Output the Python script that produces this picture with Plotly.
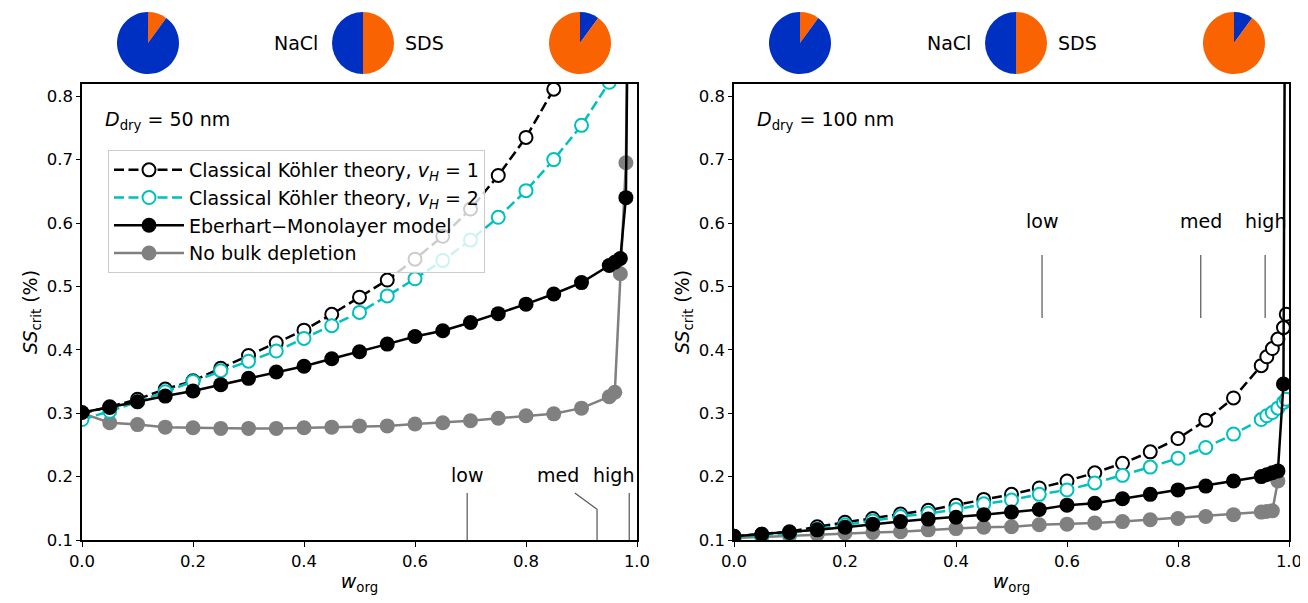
import plotly.graph_objects as go

# ---------------- data ----------------
w_base = [0.0, 0.05, 0.1, 0.15, 0.2, 0.25, 0.3, 0.35, 0.4, 0.45, 0.5,
          0.55, 0.6, 0.65, 0.7, 0.75, 0.8, 0.85, 0.9]

# Left panel (D_dry = 50 nm)
L_kohler1_w = w_base
L_kohler1 = [0.300, 0.310, 0.322, 0.338, 0.351, 0.371, 0.391, 0.411, 0.431, 0.456, 0.483,
             0.510, 0.543, 0.579, 0.622, 0.675, 0.735, 0.811, 0.905]
L_kohler2_w = w_base + [0.95]
L_kohler2 = [0.290, 0.303, 0.318, 0.334, 0.350, 0.367, 0.382, 0.398, 0.418, 0.438, 0.459,
             0.485, 0.512, 0.541, 0.573, 0.609, 0.651, 0.700, 0.754, 0.822]
L_eber_w = w_base + [0.95, 0.96, 0.97, 0.98, 0.99]
L_eber = [0.301, 0.309, 0.318, 0.327, 0.335, 0.345, 0.355, 0.365, 0.374, 0.386, 0.397,
          0.409, 0.421, 0.430, 0.443, 0.457, 0.472, 0.488, 0.506, 0.533, 0.538, 0.544, 0.640, 1.5]
L_nobulk_w = w_base + [0.95, 0.96, 0.97, 0.98, 0.99]
L_nobulk = [0.300, 0.285, 0.282, 0.278, 0.277, 0.276, 0.276, 0.276, 0.277, 0.278, 0.280,
            0.280, 0.283, 0.285, 0.288, 0.292, 0.296, 0.299, 0.308, 0.326, 0.333, 0.520, 0.695, 1.5]

# Right panel (D_dry = 100 nm)
R_kohler1_w = w_base + [0.95, 0.96, 0.97, 0.98, 0.99, 0.995]
R_kohler1 = [0.106, 0.109, 0.113, 0.121, 0.128, 0.134, 0.141, 0.147, 0.155, 0.164, 0.172,
             0.182, 0.193, 0.206, 0.221, 0.239, 0.260, 0.289, 0.324, 0.375, 0.389, 0.402,
             0.417, 0.435, 0.456]
R_kohler2_w = w_base + [0.95, 0.96, 0.97, 0.98, 0.99, 0.995]
R_kohler2 = [0.104, 0.107, 0.111, 0.117, 0.124, 0.130, 0.137, 0.142, 0.148, 0.157, 0.163,
             0.172, 0.179, 0.190, 0.202, 0.215, 0.229, 0.246, 0.267, 0.290, 0.296, 0.301,
             0.308, 0.317, 0.322]
R_eber_w = w_base + [0.95, 0.96, 0.97, 0.98, 0.99, 0.995]
R_eber = [0.106, 0.109, 0.112, 0.116, 0.120, 0.125, 0.129, 0.133, 0.136, 0.140, 0.144,
          0.148, 0.155, 0.158, 0.165, 0.172, 0.179, 0.185, 0.193, 0.200, 0.203, 0.206,
          0.209, 0.346, 1.5]
R_nobulk_w = w_base + [0.95, 0.96, 0.97, 0.98]
R_nobulk = [0.103, 0.105, 0.107, 0.109, 0.111, 0.112, 0.113, 0.116, 0.118, 0.120, 0.121,
            0.124, 0.125, 0.127, 0.129, 0.132, 0.134, 0.137, 0.140, 0.144, 0.145, 0.146, 0.193]

# composition labels
comp_labels = ["low", "med", "high"]
L_comp_w = [0.694, 0.928, 0.986]
L_comp_text_w = [0.694, 0.857, 0.957]
R_comp_w = [0.555, 0.841, 0.957]

# pies: SDS mass fraction
pie_sds = [0.1, 0.5, 0.9]
pie_names = ["NaCl", "SDS"]

legend_names = ["Classical Köhler theory, <i>v</i><sub><i>H</i></sub> = 1",
                "Classical Köhler theory, <i>v</i><sub><i>H</i></sub> = 2",
                "Eberhart\u2212Monolayer model",
                "No bulk depletion"]
panel_titles = ["<i>D</i><sub>dry</sub> = 50 nm", "<i>D</i><sub>dry</sub> = 100 nm"]
x_title = "<i>w</i><sub>org</sub>"
y_title = "<i>SS</i><sub>crit</sub> (%)"

# ---------------- figure ----------------
PAGE_OFF = 8          # default body margin of the html page
W, H = 1300, 595
FONT = "DejaVu Sans"
FS = 19
TFS = 16.5
BLUE = "#0030c2"
ORANGE = "#f96302"
CYAN = "#00bfbf"
GRAY = "#808080"
DASH = "10px,4.5px"


def fx(px):
    return (px - PAGE_OFF) / W


def fy(py):
    return 1 - (py - PAGE_OFF) / H


ax_x = [(82.0, 637.0), (734.0, 1289.0)]
ax_top, ax_bot = 84.0, 540.0
px_per_unit = 634.0
ymax = 0.1 + (ax_bot - ax_top) / px_per_unit

fig = go.Figure()

panels = [
    (L_kohler1_w, L_kohler1, L_kohler2_w, L_kohler2, L_eber_w, L_eber, L_nobulk_w, L_nobulk),
    (R_kohler1_w, R_kohler1, R_kohler2_w, R_kohler2, R_eber_w, R_eber, R_nobulk_w, R_nobulk),
]
for i, (k1w, k1, k2w, k2, ew, e, nw, nb) in enumerate(panels):
    xa = "x" if i == 0 else "x2"
    ya = "y" if i == 0 else "y2"
    show = i == 0
    fig.add_trace(go.Scatter(x=nw, y=nb, xaxis=xa, yaxis=ya, mode="lines+markers",
                             name=legend_names[3], legendrank=4, showlegend=show,
                             line=dict(color=GRAY, width=2.5),
                             marker=dict(color=GRAY, size=15)))
    fig.add_trace(go.Scatter(x=k1w, y=k1, xaxis=xa, yaxis=ya, mode="lines+markers",
                             name=legend_names[0], legendrank=1, showlegend=show,
                             line=dict(color="black", width=2.5, dash=DASH),
                             marker=dict(color="white", size=13,
                                         line=dict(color="black", width=2))))
    fig.add_trace(go.Scatter(x=k2w, y=k2, xaxis=xa, yaxis=ya, mode="lines+markers",
                             name=legend_names[1], legendrank=2, showlegend=show,
                             line=dict(color=CYAN, width=2.5, dash=DASH),
                             marker=dict(color="white", size=13,
                                         line=dict(color=CYAN, width=2))))
    fig.add_trace(go.Scatter(x=ew, y=e, xaxis=xa, yaxis=ya, mode="lines+markers",
                             name=legend_names[2], legendrank=3, showlegend=show,
                             line=dict(color="black", width=2.5),
                             marker=dict(color="black", size=15)))

# pies (centres given in page pixels)
pie_cx = [[148.0, 363.0, 580.0], [800.0, 1016.0, 1234.0]]
R_PIE = 31.0
pie_cy = 43.0
for i in range(2):
    for j, s in enumerate(pie_sds):
        cx = pie_cx[i][j]
        if j < 2:
            vals, cols, labs = [s, 1 - s], [ORANGE, BLUE], ["SDS", "NaCl"]
        else:
            vals, cols, labs = [1 - s, s], [BLUE, ORANGE], ["NaCl", "SDS"]
        fig.add_trace(go.Pie(values=vals, labels=labs, sort=False, direction="clockwise",
                             rotation=0, textinfo="none", hoverinfo="label+percent",
                             marker=dict(colors=cols), showlegend=False,
                             domain=dict(x=[fx(cx - R_PIE), fx(cx + R_PIE)],
                                         y=[fy(pie_cy + R_PIE), fy(pie_cy - R_PIE)])))
    cmid = pie_cx[i][1]
    fig.add_annotation(x=fx(cmid - 43), y=fy(pie_cy), xref="paper", yref="paper",
                       text=pie_names[0], showarrow=False, xanchor="right", yanchor="middle",
                       font=dict(size=FS, color="black"))
    fig.add_annotation(x=fx(cmid + 40), y=fy(pie_cy), xref="paper", yref="paper",
                       text=pie_names[1], showarrow=False, xanchor="left", yanchor="middle",
                       font=dict(size=FS, color="black"))

# axes
yticks = [0.1, 0.2, 0.3, 0.4, 0.5, 0.6, 0.7, 0.8]
xticks = [0.0, 0.2, 0.4, 0.6, 0.8, 1.0]
common_x = dict(range=[0, 1], tickmode="array", tickvals=xticks, automargin=False,
                ticktext=[f"{v:.1f}" for v in xticks], showgrid=False, zeroline=False,
                showline=True, linecolor="black", linewidth=1.5, mirror=True,
                ticks="outside", ticklen=5, tickwidth=1.3, tickcolor="black",
                tickfont=dict(size=TFS, color="black"),
                title=dict(text=x_title, font=dict(size=FS, color="black"), standoff=5))
common_y = dict(range=[0.1, ymax], tickmode="array", tickvals=yticks,
                automargin=False,
                ticktext=[f"{v:.1f}" for v in yticks], showgrid=False, zeroline=False,
                showline=True, linecolor="black", linewidth=1.5, mirror=True,
                ticks="outside", ticklen=4, tickwidth=1.3, tickcolor="black",
                tickfont=dict(size=TFS, color="black"))

ydom = [fy(ax_bot), fy(ax_top)]
fig.update_layout(
    width=W, height=H, margin=dict(l=0, r=0, t=0, b=0, autoexpand=False),
    paper_bgcolor="white", plot_bgcolor="white",
    font=dict(family=FONT, size=FS, color="black"),
    xaxis=dict(domain=[fx(ax_x[0][0]), fx(ax_x[0][1])], anchor="y", **common_x),
    yaxis=dict(domain=ydom, anchor="x", **common_y),
    xaxis2=dict(domain=[fx(ax_x[1][0]), fx(ax_x[1][1])], anchor="y2", **common_x),
    yaxis2=dict(domain=ydom, anchor="x2", **common_y),
    legend=dict(x=fx(108), y=fy(150), xanchor="left", yanchor="top",
                bgcolor="rgba(255,255,255,0.8)", bordercolor="#cccccc", borderwidth=1,
                font=dict(size=FS, color="black"), tracegroupgap=0, itemwidth=70),
    showlegend=True,
)

# y axis titles (rotated annotations left of the tick labels)
for i, (x0, x1) in enumerate(ax_x):
    fig.add_annotation(x=fx(x0 - 51), y=fy((ax_top + ax_bot) / 2), xref="paper", yref="paper",
                       text=y_title, textangle=-90, showarrow=False,
                       xanchor="center", yanchor="middle", font=dict(size=FS, color="black"))

# panel titles
for i, t in enumerate(panel_titles):
    xa = "x" if i == 0 else "x2"
    ya = "y" if i == 0 else "y2"
    fig.add_annotation(x=0.038, y=0.762, xref=xa, yref=ya, text=t, showarrow=False,
                       xanchor="left", yanchor="middle", font=dict(size=FS, color="black"))

# composition markers: left panel
LINE_C = "#555555"
for lab, wv, wt in zip(comp_labels, L_comp_w, L_comp_text_w):
    fig.add_annotation(x=wt, y=0.2025, xref="x", yref="y", text=lab, showarrow=False,
                       xanchor="center", yanchor="middle", font=dict(size=FS, color="black"))
    if lab == "med":
        fig.add_shape(type="path", xref="x", yref="y",
                      path=f"M {wv - 0.04},0.174 L {wv},0.1485 L {wv},0.1",
                      line=dict(color=LINE_C, width=1.2))
    else:
        fig.add_shape(type="line", xref="x", yref="y", x0=wv, x1=wv, y0=0.1, y1=0.174,
                      line=dict(color=LINE_C, width=1.2))

# composition markers: right panel
for lab, wv in zip(comp_labels, R_comp_w):
    fig.add_annotation(x=wv, y=0.603, xref="x2", yref="y2", text=lab, showarrow=False,
                       xanchor="center", yanchor="middle", font=dict(size=FS, color="black"))
    fig.add_shape(type="line", xref="x2", yref="y2", x0=wv, x1=wv, y0=0.45, y1=0.5495,
                  line=dict(color=LINE_C, width=1.2))

fig.write_html("out.html")
